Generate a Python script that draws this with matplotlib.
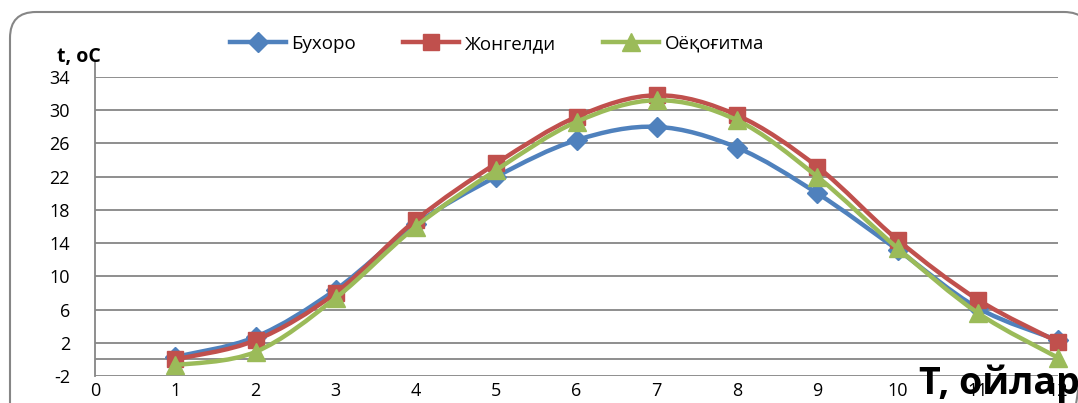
import matplotlib
matplotlib.use("Agg")
import matplotlib.pyplot as plt
from matplotlib.path import Path
from matplotlib.patches import PathPatch, FancyBboxPatch
from matplotlib.lines import Line2D
import numpy as np

months = [1, 2, 3, 4, 5, 6, 7, 8, 9, 10, 11, 12]
bukhoro = [0.3, 2.7, 8.4, 16.3, 22.0, 26.4, 28.0, 25.5, 20.0, 13.2, 6.2, 2.3]
zhongeldi = [0.0, 2.3, 8.0, 16.8, 23.6, 29.2, 31.8, 29.4, 23.2, 14.4, 7.2, 2.1]
oyokogitma = [-0.7, 0.9, 7.4, 16.0, 22.8, 28.6, 31.2, 28.8, 22.0, 13.4, 5.6, 0.2]
series_names = ["Бухоро", "Жонгелди", "Оёқоғитма"]
y_ticks = [-2, 2, 6, 10, 14, 18, 22, 26, 30, 34]
x_ticks = [0, 1, 2, 3, 4, 5, 6, 7, 8, 9, 10, 11, 12]

colors = ["#4F81BD", "#C0504D", "#9BBB59"]
markers = ["D", "s", "^"]
msizes = [10, 12, 13]

plt.rcParams['font.family'] = ['Open Sans', 'DejaVu Sans']

fig = plt.figure(figsize=(10.78, 4.03), dpi=100)

# background axes in pixel units for the rounded chart border
bg = fig.add_axes([0, 0, 1, 1])
bg.set_xlim(0, 1078)
bg.set_ylim(403, 0)
bg.axis("off")
border = FancyBboxPatch((10, 12), 1080, 420,
                        boxstyle="round,pad=0,rounding_size=26",
                        fill=False, edgecolor="#868686", linewidth=1.5)
bg.add_patch(border)

ax = fig.add_axes([95 / 1078, 27 / 403, 963 / 1078, 299 / 403])
ax.set_xlim(0, 12)
ax.set_ylim(-2, 34)
for s in ax.spines.values():
    s.set_visible(False)
ax.plot([0, 0], [-2, 35.8], color="#868686", lw=1.3, zorder=1, clip_on=False)
for yv in y_ticks:
    ax.axhline(yv, color="#868686", lw=1.3, zorder=1)
ax.axhline(0, color="#868686", lw=1.3, zorder=1)

ax.set_yticks(y_ticks)
ax.set_yticklabels([str(v) for v in y_ticks], fontsize=13)
ax.set_xticks(x_ticks)
ax.set_xticklabels([str(v) for v in x_ticks], fontsize=13)
ax.tick_params(length=0, pad=18, axis="y")
ax.tick_params(length=0, pad=4, axis="x")
ax.patch.set_alpha(0)


def smooth_path(xs, ys):
    pts = np.column_stack([xs, ys])
    n = len(pts)
    verts = [pts[0]]
    codes = [Path.MOVETO]
    for i in range(n - 1):
        p0 = pts[i - 1] if i > 0 else pts[i]
        p1 = pts[i]
        p2 = pts[i + 1]
        p3 = pts[i + 2] if i + 2 < n else pts[i + 1]
        c1 = p1 + (p2 - p0) / 6.0
        c2 = p2 - (p3 - p1) / 6.0
        verts += [c1, c2, p2]
        codes += [Path.CURVE4] * 3
    return Path(verts, codes)


data = [bukhoro, zhongeldi, oyokogitma]
handles = []
for i, ys in enumerate(data):
    patch = PathPatch(smooth_path(months, ys), fill=False, edgecolor=colors[i],
                      lw=3.2, zorder=3 + i, capstyle="round", joinstyle="round")
    ax.add_patch(patch)
    ax.plot(months, ys, linestyle="none", marker=markers[i], ms=msizes[i],
            color=colors[i], mec=colors[i], zorder=3 + i, clip_on=False)
    handles.append(Line2D([0], [0], color=colors[i], lw=3.2, marker=markers[i],
                          ms=msizes[i], mec=colors[i]))

fig.legend(handles, series_names, loc="center", bbox_to_anchor=(497 / 1078, 1 - 44 / 403),
           ncol=3, frameon=False, fontsize=13.5, handlelength=3.0, columnspacing=2.5,
           handletextpad=0.3)

fig.text(57 / 1078, 1 - 57 / 403, "t, oC", fontsize=14, fontweight="bold",
         ha="left", va="center")
fig.text(1080 / 1078, 1 - 384 / 403, "T, ойлар", fontsize=27, fontweight="bold",
         ha="right", va="center", zorder=10)

fig.savefig("out.png", dpi=100)
